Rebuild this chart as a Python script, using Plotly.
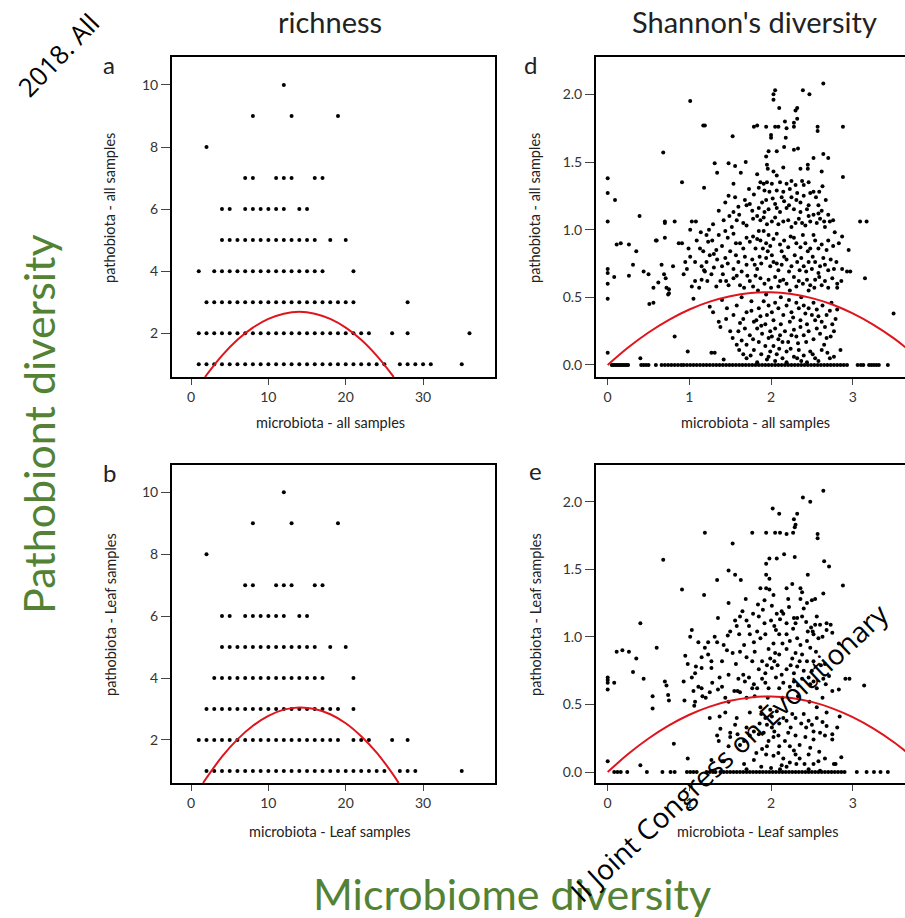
import plotly.graph_objects as go

# ---------------- richness (integer counts) ----------------
rich_all_x = [
    12,
    8, 13, 19,
    2,
    7, 8, 11, 12, 13, 16, 17,
    4, 5, 7, 8, 9, 10, 11, 12, 14, 15,
    4, 5, 6, 7, 8, 9, 10, 11, 12, 13, 14, 15, 16, 18, 20,
    1, 3, 4, 5, 6, 7, 8, 9, 10, 11, 12, 13, 14, 15, 16, 17, 21,
    2, 3, 4, 5, 6, 7, 8, 9, 10, 11, 12, 13, 14, 15, 16, 17, 18, 19, 20, 21, 28,
    1, 2, 3, 4, 5, 6, 7, 8, 9, 10, 11, 12, 13, 14, 15, 16, 17, 18, 19, 20, 21, 22, 23, 26, 28, 36,
    1, 2, 3, 4, 5, 6, 7, 8, 9, 10, 11, 12, 13, 14, 15, 16, 17, 18, 19, 20, 21, 22, 23, 24, 25, 27, 28, 29, 30, 31, 35,
]
rich_all_y = (
    [10] + [9] * 3 + [8] + [7] * 7 + [6] * 10 + [5] * 15 + [4] * 17
    + [3] * 21 + [2] * 26 + [1] * 31
)

rich_leaf_x = [
    12,
    8, 13, 19,
    2,
    7, 8, 11, 12, 13, 16, 17,
    4, 5, 7, 8, 9, 10, 11, 12, 14, 15,
    4, 5, 6, 7, 8, 9, 10, 11, 12, 13, 14, 15, 16, 18, 20,
    3, 4, 5, 6, 7, 8, 9, 10, 11, 12, 13, 14, 15, 16, 17, 21,
    2, 3, 4, 5, 6, 7, 8, 9, 10, 11, 12, 13, 14, 15, 16, 17, 18, 19, 21,
    1, 2, 3, 4, 5, 6, 7, 8, 9, 10, 11, 12, 13, 14, 15, 16, 17, 18, 19, 21, 22, 23, 26, 28,
    2, 3, 4, 5, 6, 7, 8, 9, 10, 11, 12, 13, 14, 15, 16, 17, 18, 19, 20, 21, 22, 23, 24, 25, 27, 28, 29, 35,
]
rich_leaf_y = (
    [10] + [9] * 3 + [8] + [7] * 7 + [6] * 10 + [5] * 15 + [4] * 16
    + [3] * 19 + [2] * 24 + [1] * 28
)

# quadratic fits (readings along the fitted curve)
rich_all_fit_x = [1.8, 4, 6, 8, 10, 12, 14, 16, 18, 20, 22, 24, 26, 26.2]
rich_all_fit_y = [0.59, 1.28, 1.79, 2.18, 2.46, 2.63, 2.69, 2.63, 2.46, 2.18, 1.79, 1.28, 0.66, 0.59]
rich_leaf_fit_x = [1.55, 4, 6, 8, 10, 12, 14, 16, 18, 20, 22, 24, 26, 26.85]
rich_leaf_fit_y = [0.61, 1.46, 2.02, 2.46, 2.78, 2.98, 3.05, 3.00, 2.83, 2.54, 2.12, 1.59, 0.93, 0.61]

# ---------------- Shannon's diversity ----------------
shannon_all_pts = [
    (0.00, 1.38), (0.00, 1.27), (0.09, 1.22), (0.00, 1.06), (0.39, 1.10), (0.00, 0.71), (0.00, 0.68),
    (0.00, 0.60), (0.00, 0.49), (0.08, 0.65), (0.11, 0.89), (0.16, 0.90), (0.26, 0.89), (0.26, 0.66),
    (0.35, 0.84), (0.31, 0.74), (0.00, 0.09), (0.40, 0.05),
    (2.64, 2.08), (2.05, 2.03), (2.03, 2.00), (2.03, 1.96), (2.39, 2.03), (2.47, 2.00), (1.01, 1.95),
    (2.10, 1.90), (2.32, 1.90), (2.30, 1.88), (2.32, 1.82), (2.28, 1.79), (1.17, 1.77), (1.19, 1.77),
    (1.79, 1.76), (1.83, 1.77), (1.94, 1.76), (2.05, 1.76), (2.09, 1.76), (2.17, 1.80), (2.19, 1.75),
    (2.28, 1.76), (2.57, 1.76), (2.57, 1.73), (2.88, 1.76), (2.00, 1.70), (2.00, 1.68), (1.53, 1.69),
    (0.68, 1.57), (1.97, 1.58), (2.07, 1.58), (2.16, 1.61), (2.28, 1.59), (2.64, 1.56), (2.70, 1.53),
    (1.94, 1.54), (1.31, 1.49), (1.48, 1.49), (1.56, 1.47), (1.69, 1.50), (1.63, 1.42), (1.34, 1.42),
    (1.95, 1.48), (1.96, 1.45), (2.03, 1.43), (2.07, 1.40), (2.45, 1.48), (2.45, 1.45), (0.91, 1.35),
    (1.18, 1.31), (2.88, 1.39), (1.54, 1.34), (1.48, 1.25), (1.87, 1.35), (1.91, 1.34), (1.95, 1.35),
    (2.01, 1.34), (2.11, 1.35), (2.19, 1.34), (2.25, 1.36), (2.38, 1.36), (2.40, 1.33), (2.63, 1.32),
    (1.92, 1.29), (1.98, 1.28), (2.07, 1.29), (2.15, 1.28), (2.32, 1.27), (2.48, 1.27), (2.52, 1.28),
    (1.79, 1.26), (1.68, 1.22), (2.02, 1.23), (2.16, 1.21), (2.25, 1.24), (2.36, 1.20), (2.46, 1.18),
    (2.58, 1.18), (1.60, 1.17), (1.74, 1.19), (1.85, 1.16), (1.92, 1.13), (1.97, 1.15), (2.07, 1.16),
    (2.11, 1.13), (2.19, 1.16), (2.28, 1.15), (2.36, 1.13), (2.44, 1.15), (2.52, 1.11), (2.60, 1.08),
    (2.70, 1.11), (2.76, 1.07), (3.09, 1.06), (3.17, 1.06), (1.36, 1.14), (1.49, 1.10), (1.54, 1.13),
    (1.58, 1.07), (1.61, 1.11), (1.66, 1.05), (1.83, 1.10), (1.87, 1.07), (1.91, 1.09), (2.01, 1.06),
    (2.05, 1.09), (2.15, 1.06), (2.21, 1.07), (2.30, 1.05), (2.38, 1.05), (2.42, 1.03), (2.48, 1.06),
    (2.56, 1.05), (2.65, 1.06), (2.72, 1.06), (0.70, 1.06), (0.82, 1.06), (1.03, 1.06), (1.08, 1.06),
    (1.01, 1.00),
    (0.59, 0.92), (0.70, 0.94), (0.87, 0.90), (0.91, 0.90), (1.21, 0.96), (1.23, 0.91), (1.13, 0.86),
    (1.17, 0.84), (1.25, 0.81), (1.33, 0.85), (1.36, 0.96), (1.44, 0.99), (1.47, 0.94), (1.54, 0.97),
    (1.62, 0.90), (1.70, 0.94), (1.74, 0.91), (1.81, 0.86), (1.85, 0.99), (1.91, 0.99), (1.87, 0.92),
    (1.94, 0.90), (1.99, 0.88), (2.03, 0.93), (2.11, 0.89), (2.16, 0.92), (2.21, 0.87), (2.28, 0.94),
    (2.36, 0.87), (2.42, 0.90), (2.48, 0.86), (2.54, 0.92), (2.62, 0.89), (2.68, 0.85), (2.83, 0.90),
    (2.95, 0.85), (1.01, 0.80), (1.07, 0.76), (0.99, 0.86), (1.15, 0.73), (1.21, 0.76), (1.34, 0.78),
    (1.40, 0.73), (1.47, 0.75), (1.54, 0.71), (1.60, 0.76), (1.64, 0.69), (1.70, 0.74), (1.77, 0.78),
    (1.83, 0.71), (1.88, 0.75), (1.94, 0.79), (1.99, 0.73), (2.03, 0.76), (2.09, 0.70), (2.13, 0.74),
    (2.19, 0.78), (2.25, 0.73), (2.32, 0.76), (2.35, 0.70), (2.40, 0.73), (2.46, 0.76), (2.50, 0.71),
    (2.54, 0.76), (2.60, 0.73), (2.66, 0.74), (2.73, 0.78), (2.77, 0.71), (2.87, 0.71), (2.93, 0.69),
    (2.97, 0.69), (3.15, 0.64),
    (0.44, 0.69), (0.50, 0.67), (0.66, 0.74), (0.69, 0.67), (0.71, 0.64), (0.72, 0.57), (0.74, 0.52),
    (0.56, 0.57), (0.51, 0.45), (0.56, 0.46), (0.93, 0.67), (0.97, 0.71), (1.07, 0.62), (1.12, 0.57),
    (1.15, 0.63), (1.19, 0.69), (1.27, 0.67), (1.38, 0.62), (1.41, 0.67), (1.48, 0.59), (1.54, 0.64),
    (1.62, 0.59), (1.67, 0.57), (1.74, 0.62), (1.81, 0.66), (1.87, 0.64), (1.97, 0.63), (2.05, 0.65),
    (2.11, 0.62), (2.19, 0.60), (2.28, 0.65), (2.34, 0.62), (2.44, 0.63), (2.48, 0.59), (2.54, 0.63),
    (2.62, 0.59), (2.70, 0.57), (2.81, 0.60), (2.81, 0.57), (1.05, 0.49), (1.25, 0.43), (1.29, 0.39),
    (1.36, 0.32), (1.38, 0.28), (1.46, 0.42), (1.54, 0.37), (1.58, 0.44), (1.62, 0.31), (1.60, 0.25),
    (1.50, 0.25), (1.70, 0.39), (1.79, 0.32), (1.85, 0.42), (1.87, 0.36), (1.91, 0.47), (1.97, 0.44),
    (2.01, 0.39), (2.05, 0.46), (2.09, 0.42), (2.15, 0.37), (2.19, 0.44), (2.23, 0.32), (2.25, 0.39),
    (2.31, 0.46), (2.34, 0.42), (2.40, 0.44), (2.42, 0.38), (2.46, 0.42), (2.50, 0.37), (2.54, 0.33),
    (2.56, 0.41), (2.62, 0.32), (2.68, 0.37), (2.75, 0.30), (2.79, 0.34), (2.81, 0.41), (1.68, 0.27),
    (1.74, 0.22), (1.83, 0.27), (1.89, 0.23), (1.93, 0.30), (1.97, 0.20), (1.99, 0.25), (2.05, 0.27),
    (2.09, 0.19), (2.11, 0.22), (2.17, 0.25), (2.21, 0.17), (2.28, 0.26), (2.31, 0.21), (2.36, 0.28),
    (2.40, 0.22), (2.46, 0.25), (2.52, 0.19), (2.60, 0.23), (2.68, 0.20), (2.77, 0.25), (0.82, 0.21),
    (1.58, 0.15), (1.61, 0.11), (1.70, 0.15), (1.79, 0.11), (1.85, 0.17), (1.93, 0.14), (1.99, 0.10),
    (2.03, 0.14), (2.10, 0.12), (2.19, 0.10), (2.28, 0.06), (2.34, 0.11), (2.40, 0.07), (2.48, 0.10),
    (2.54, 0.05), (2.62, 0.11), (2.72, 0.05), (2.77, 0.06), (2.85, 0.11), (0.98, 0.10), (1.27, 0.09),
    (1.31, 0.09), (1.42, 0.04), (1.70, 0.05), (1.83, 0.02), (1.95, 0.04), (2.05, 0.03), (2.19, 0.02),
    (2.32, 0.05), (2.44, 0.02), (3.50, 0.38), (0.75, 0.56), (0.75, 0.53), (0.60, 0.92), (0.70, 1.05),
    (1.70, 1.18), (1.77, 1.14), (1.89, 1.20), (1.94, 1.22), (2.05, 1.19), (2.13, 1.24), (2.22, 1.18),
    (2.31, 1.22), (2.40, 1.25), (2.55, 1.24), (2.62, 1.14), (2.66, 1.02), (2.78, 0.98), (2.87, 0.95),
    (1.78, 1.08), (1.95, 1.04), (2.09, 1.04), (2.25, 1.02), (2.34, 1.08), (2.46, 1.10), (2.58, 1.12),
    (1.70, 1.03), (1.52, 1.02), (1.42, 1.07), (1.29, 1.04), (1.24, 1.00), (1.40, 0.88), (1.50, 0.84),
    (1.57, 0.90), (1.66, 0.86), (1.78, 0.95), (1.83, 0.93), (1.90, 0.86), (1.97, 0.96), (2.07, 0.97),
    (2.13, 0.84), (2.24, 0.95), (2.31, 0.90), (2.39, 0.96), (2.45, 0.84), (2.52, 0.96), (2.58, 0.86),
    (2.70, 0.92), (2.76, 0.88), (1.30, 0.72), (1.44, 0.79), (1.57, 0.81), (1.68, 0.80), (1.80, 0.74),
    (1.86, 0.80), (1.96, 0.84), (2.01, 0.81), (2.07, 0.75), (2.16, 0.80), (2.22, 0.69), (2.29, 0.81),
    (2.37, 0.79), (2.43, 0.69), (2.51, 0.80), (2.58, 0.68), (2.64, 0.79), (2.70, 0.70), (2.80, 0.76),
    (1.22, 0.62), (1.33, 0.58), (1.45, 0.62), (1.58, 0.66), (1.71, 0.66), (1.78, 0.58), (1.84, 0.55),
    (1.92, 0.60), (2.00, 0.57), (2.09, 0.58), (2.15, 0.63), (2.23, 0.55), (2.31, 0.58), (2.39, 0.60),
    (2.46, 0.55), (2.53, 0.57), (2.59, 0.65), (2.66, 0.62), (2.75, 0.64), (2.86, 0.62), (1.40, 0.48),
    (1.64, 0.50), (1.76, 0.47), (1.94, 0.52), (2.12, 0.50), (2.22, 0.48), (2.37, 0.50), (2.52, 0.46),
    (2.63, 0.44), (2.74, 0.46), (1.45, 0.34), (1.66, 0.34), (1.76, 0.40), (1.82, 0.33), (1.95, 0.37),
    (2.03, 0.33), (2.12, 0.30), (2.27, 0.35), (2.36, 0.33), (2.44, 0.30), (2.58, 0.36), (2.66, 0.28),
    (2.72, 0.40), (1.53, 0.20), (1.64, 0.18), (1.78, 0.19), (1.88, 0.29), (2.01, 0.21), (2.14, 0.17),
    (2.25, 0.22), (2.33, 0.16), (2.43, 0.17), (2.56, 0.27), (2.65, 0.15), (2.73, 0.21), (1.66, 0.08),
    (1.75, 0.07), (1.88, 0.08), (1.97, 0.06), (2.07, 0.08), (2.14, 0.05), (2.24, 0.12), (2.37, 0.03),
    (2.51, 0.08), (2.58, 0.03), (2.69, 0.09), (1.14, 0.98), (1.28, 0.92), (1.30, 0.82), (1.09, 0.92),
    (1.18, 0.70), (1.03, 0.58), (0.95, 0.76), (0.80, 0.73), (0.62, 0.61), (1.56, 1.24), (1.73, 1.30),
    (1.85, 1.31), (2.23, 1.30), (2.30, 1.33), (2.46, 1.35), (2.59, 1.28), (2.67, 1.22), (1.44, 1.20),
    (1.83, 1.41), (2.15, 1.46), (2.36, 1.45), (2.62, 1.43), (2.52, 1.53), (2.33, 1.60), (2.18, 1.68),
]
shannon_all_zero_x = [
    0.05, 0.07, 0.09, 0.11, 0.13, 0.15, 0.17, 0.19, 0.21, 0.23, 0.25, 0.41, 0.44, 0.47, 0.50, 0.59,
    0.66, 0.70, 0.74, 0.78, 0.82, 0.86, 0.90, 0.93, 0.97, 1.01, 1.05, 1.09, 1.13, 1.17, 1.21, 1.25,
    1.29, 1.33, 1.37, 1.41, 1.45, 1.49, 1.53, 1.57, 1.61, 1.65, 1.69, 1.73, 1.77, 1.81, 1.85, 1.89,
    1.93, 1.97, 2.01, 2.05, 2.09, 2.13, 2.17, 2.21, 2.25, 2.29, 2.33, 2.37, 2.41, 2.45, 2.49, 2.53,
    2.57, 2.61, 2.65, 2.69, 2.73, 2.77, 2.81, 2.85, 2.89, 2.93, 3.06, 3.10, 3.13, 3.20, 3.23, 3.26,
    3.29, 3.32, 3.43,
]

shannon_leaf_pts = [
    (0.00, 0.70), (0.00, 0.68), (0.00, 0.66), (0.00, 0.61), (0.08, 0.66), (0.11, 0.89), (0.18, 0.90),
    (0.26, 0.89), (0.31, 0.74), (0.35, 0.84), (0.40, 1.10), (0.44, 0.69), (0.00, 0.08), (0.40, 0.05),
    (0.55, 0.56), (0.55, 0.47), (0.60, 0.92), (0.68, 1.57), (0.70, 0.67), (0.72, 0.64), (0.74, 0.57),
    (0.75, 0.53), (0.81, 0.21), (0.93, 0.67), (0.94, 0.53), (0.98, 0.10), (1.01, 1.00), (1.03, 1.05),
    (2.64, 2.08), (2.39, 2.03), (2.48, 2.00), (2.02, 1.95), (2.10, 1.91), (2.32, 1.91), (2.28, 1.87),
    (2.30, 1.83), (1.19, 1.77), (1.77, 1.77), (1.94, 1.77), (2.05, 1.77), (2.11, 1.77), (2.19, 1.76),
    (2.27, 1.77), (2.29, 1.81), (2.57, 1.76), (2.57, 1.73), (1.53, 1.69), (1.98, 1.58), (2.07, 1.58),
    (2.16, 1.61), (2.29, 1.59), (2.65, 1.56), (2.71, 1.52), (1.94, 1.54), (1.94, 1.46), (1.34, 1.42),
    (1.48, 1.49), (1.56, 1.46), (1.63, 1.42), (2.45, 1.46), (0.91, 1.35), (2.88, 1.38), (1.18, 1.31),
    (1.87, 1.36), (1.94, 1.36), (1.98, 1.35), (2.19, 1.36), (2.26, 1.39), (2.03, 1.31), (2.36, 1.36),
    (2.38, 1.33), (2.44, 1.25), (2.50, 1.27), (2.54, 1.28), (2.64, 1.32), (1.48, 1.25), (1.84, 1.24),
    (1.92, 1.27), (2.01, 1.23), (2.13, 1.19), (2.07, 1.17), (2.15, 1.17), (1.35, 1.14), (1.62, 1.15),
    (1.65, 1.19), (1.56, 1.12), (1.70, 1.12), (1.78, 1.17), (1.85, 1.15), (1.92, 1.10), (2.00, 1.12),
    (2.04, 1.08), (2.11, 1.13), (2.19, 1.10), (2.28, 1.14), (2.32, 1.14), (2.38, 1.15), (2.30, 1.10),
    (2.43, 1.11), (2.49, 1.07), (2.54, 1.09), (2.60, 1.09), (2.68, 1.10), (2.73, 1.09), (2.51, 1.04),
    (2.75, 1.03), (2.68, 1.05), (1.50, 1.04), (1.47, 1.01), (1.61, 1.02), (1.74, 1.02), (1.83, 1.04),
    (1.87, 0.99), (1.93, 1.02), (2.03, 0.95), (2.10, 1.02), (2.19, 1.02), (2.23, 0.97), (2.32, 0.99),
    (2.36, 0.94), (2.44, 0.97), (2.52, 1.02), (2.58, 0.99), (1.11, 0.96), (1.23, 0.96), (1.34, 0.96),
    (1.19, 0.92), (1.23, 0.87), (1.15, 0.85), (1.27, 0.82), (1.08, 0.78), (1.42, 0.94), (1.53, 0.88),
    (1.62, 0.89), (1.67, 0.94), (1.70, 0.85), (1.77, 0.82), (1.80, 0.89), (1.89, 0.82), (1.95, 0.79),
    (2.05, 0.88), (2.10, 0.87), (1.99, 0.84), (2.19, 0.91), (2.26, 0.84), (2.38, 0.87), (2.44, 0.82),
    (2.55, 0.89), (2.52, 0.82), (2.61, 0.79), (1.93, 0.73), (2.01, 0.77), (2.08, 0.79), (2.13, 0.72),
    (2.19, 0.76), (2.28, 0.73), (2.32, 0.78), (2.40, 0.75), (0.95, 0.86), (0.98, 0.80), (1.07, 0.73),
    (1.15, 0.77), (1.27, 0.77), (1.37, 0.70), (1.48, 0.72), (1.60, 0.69), (1.66, 0.72), (1.68, 0.67),
    (1.79, 0.65), (1.83, 0.62), (1.89, 0.69), (1.97, 0.62), (2.06, 0.70), (2.15, 0.66), (2.23, 0.63),
    (2.28, 0.67), (2.38, 0.69), (2.46, 0.70), (2.48, 0.65), (2.56, 0.62), (2.64, 0.69), (2.67, 0.65),
    (2.75, 0.60), (2.83, 0.61), (2.91, 0.69), (2.96, 0.69), (3.14, 0.64), (1.03, 0.70), (1.05, 0.60),
    (1.07, 0.52), (1.11, 0.63), (1.15, 0.62), (1.16, 0.56), (1.25, 0.59), (1.35, 0.61), (1.40, 0.63),
    (1.44, 0.55), (1.48, 0.52), (1.55, 0.60), (1.59, 0.60), (1.62, 0.59), (1.70, 0.55), (1.77, 0.62),
    (1.06, 0.49), (1.25, 0.40), (1.37, 0.41), (1.58, 0.40), (1.38, 0.32), (1.34, 0.27), (1.36, 0.23),
    (1.50, 0.29), (1.50, 0.26), (1.48, 0.19), (1.59, 0.28), (1.62, 0.20), (1.70, 0.33), (1.74, 0.27),
    (1.67, 0.23), (1.79, 0.30), (1.87, 0.48), (1.88, 0.43), (1.93, 0.40), (1.99, 0.46), (2.01, 0.41),
    (2.07, 0.45), (1.86, 0.36), (1.95, 0.35), (2.01, 0.33), (2.10, 0.36), (2.15, 0.40), (2.19, 0.38),
    (2.26, 0.43), (2.30, 0.40), (2.37, 0.36), (2.43, 0.33), (2.46, 0.38), (2.50, 0.35), (2.52, 0.30),
    (2.56, 0.40), (2.60, 0.29), (2.68, 0.34), (2.75, 0.28), (2.81, 0.33), (2.84, 0.41), (2.68, 0.44),
    (2.56, 0.48), (1.85, 0.28), (1.91, 0.29), (1.97, 0.23), (2.03, 0.26), (2.09, 0.27), (2.10, 0.19),
    (2.17, 0.23), (2.21, 0.29), (2.23, 0.19), (2.30, 0.27), (2.35, 0.20), (2.42, 0.26), (2.48, 0.18),
    (2.52, 0.24), (2.59, 0.15), (2.66, 0.27), (2.75, 0.24), (1.82, 0.14), (1.89, 0.17), (1.94, 0.13),
    (2.03, 0.12), (2.09, 0.14), (2.15, 0.10), (2.23, 0.07), (2.30, 0.13), (2.35, 0.10), (2.41, 0.06),
    (2.52, 0.06), (2.66, 0.10), (2.77, 0.06), (2.79, 0.06), (2.86, 0.11), (1.27, 0.09), (1.42, 0.08),
    (1.40, 0.08), (1.67, 0.06), (1.70, 0.02), (1.88, 0.04), (2.00, 0.03), (2.11, 0.02), (2.19, 0.04),
    (2.31, 0.06), (2.46, 0.02), (2.60, 0.01),
    (1.73, 1.08), (1.90, 1.20), (2.22, 1.22), (2.40, 1.21), (2.56, 1.15), (2.06, 1.05), (2.27, 1.06),
    (2.45, 1.04), (1.79, 0.96), (1.97, 0.91), (2.14, 0.95), (2.30, 0.88), (2.48, 0.92), (1.57, 0.80),
    (1.85, 0.76), (2.04, 0.82), (2.24, 0.79), (2.35, 0.82), (2.50, 0.75), (2.66, 0.80), (1.73, 0.70),
    (1.93, 0.66), (2.10, 0.62), (2.33, 0.64), (2.52, 0.67), (2.71, 0.71), (1.80, 0.56), (1.96, 0.55),
    (2.14, 0.55), (2.33, 0.56), (2.47, 0.52), (2.63, 0.55), (1.74, 0.44), (2.24, 0.33), (2.04, 0.30),
    (2.40, 0.43), (2.63, 0.37), (1.56, 0.35), (1.44, 0.44), (1.95, 0.19), (2.28, 0.16), (2.46, 0.13),
    (2.13, 0.05), (1.79, 0.09), (2.58, 0.08), (1.28, 0.66), (1.20, 0.55), (1.40, 0.82), (1.46, 0.90),
    (1.31, 1.00), (1.58, 1.08), (2.63, 1.00), (2.83, 0.95), (1.98, 1.43), (2.21, 1.28), (2.36, 1.28),
    (1.69, 1.28),
]
shannon_leaf_zero_x = [
    0.08, 0.12, 0.16, 0.24, 0.48, 0.67, 0.77, 0.82, 0.97, 1.01, 1.05, 1.09, 1.21, 1.25, 1.29, 1.32,
    1.38, 1.42, 1.46, 1.50, 1.54, 1.58, 1.62, 1.66, 1.70, 1.74, 1.78, 1.82, 1.86, 1.90, 1.94, 1.98,
    2.02, 2.06, 2.10, 2.14, 2.18, 2.22, 2.26, 2.30, 2.34, 2.38, 2.42, 2.46, 2.50, 2.54, 2.58, 2.62,
    2.66, 2.70, 2.74, 2.78, 2.82, 2.86, 2.90, 3.05, 3.17, 3.26, 3.34, 3.43,
]

shannon_all_fit_x = [0, 0.25, 0.5, 0.75, 1.0, 1.25, 1.5, 1.75, 2.0, 2.25, 2.5, 2.75, 3.0, 3.25, 3.5, 3.75]
shannon_all_fit_y = [0.0, 0.129, 0.240, 0.334, 0.410, 0.468, 0.508, 0.531, 0.537, 0.524, 0.494, 0.447,
                     0.381, 0.298, 0.198, 0.080]
shannon_leaf_fit_x = [0, 0.25, 0.5, 0.75, 1.0, 1.25, 1.5, 1.75, 2.0, 2.25, 2.5, 2.75, 3.0, 3.25, 3.5, 3.75]
shannon_leaf_fit_y = [0.0, 0.133, 0.248, 0.345, 0.424, 0.484, 0.527, 0.552, 0.559, 0.548, 0.519, 0.471,
                      0.406, 0.323, 0.222, 0.103]

# ---------------- figure ----------------
W, H = 905, 918
FONT = "Lato, 'Open Sans', sans-serif"
MARK_FONT = "'Open Sans', sans-serif"
GREEN = "#548235"
RED = "#e0141c"
DOT = dict(color="black", size=4)


def px(x):
    return x / W


def py(y):
    return 1 - y / H


fig = go.Figure()

panels = [
    # (xaxis id, yaxis id, scatter x, scatter y, fit x, fit y)
    ("x", "y", rich_all_x, rich_all_y, rich_all_fit_x, rich_all_fit_y),
    ("x2", "y2", [p[0] for p in shannon_all_pts] + shannon_all_zero_x,
     [p[1] for p in shannon_all_pts] + [0.0] * len(shannon_all_zero_x),
     shannon_all_fit_x, shannon_all_fit_y),
    ("x3", "y3", rich_leaf_x, rich_leaf_y, rich_leaf_fit_x, rich_leaf_fit_y),
    ("x4", "y4", [p[0] for p in shannon_leaf_pts] + shannon_leaf_zero_x,
     [p[1] for p in shannon_leaf_pts] + [0.0] * len(shannon_leaf_zero_x),
     shannon_leaf_fit_x, shannon_leaf_fit_y),
]

for xa, ya, sx, sy, fx, fy in panels:
    fig.add_trace(go.Scatter(x=sx, y=sy, mode="markers", marker=DOT,
                             xaxis=xa, yaxis=ya, showlegend=False, hoverinfo="skip"))
    fig.add_trace(go.Scatter(x=fx, y=fy, mode="lines", line=dict(color=RED, width=2, shape="spline"),
                             xaxis=xa, yaxis=ya, showlegend=False, hoverinfo="skip"))

top_dom = [py(377), py(57)]
bot_dom = [py(783), py(465)]
left_dom = [px(172), px(495)]
right_dom = [px(596), 1.0]

common = dict(showgrid=False, zeroline=False, showline=True, linecolor="black", linewidth=2,
              ticks="outside", tickcolor="#444", tickwidth=1,
              tickfont=dict(family=FONT, size=14, color="#333"))

fig.update_layout(
    width=W, height=H, autosize=False,
    margin=dict(l=0, r=0, t=0, b=0),
    paper_bgcolor="white", plot_bgcolor="white",
    xaxis=dict(domain=left_dom, anchor="y", range=[-2.46, 39.3], tickvals=[0, 10, 20, 30],
               ticklen=6, mirror=True, **common),
    yaxis=dict(domain=top_dom, anchor="x", range=[0.59, 10.9], tickvals=[2, 4, 6, 8, 10],
               ticklen=9, mirror=True, **common),
    xaxis2=dict(domain=right_dom, anchor="y2", range=[-0.143, 3.64], tickvals=[0, 1, 2, 3],
                ticklen=6, mirror=True, **common),
    yaxis2=dict(domain=top_dom, anchor="x2", range=[-0.089, 2.276], tickvals=[0, 0.5, 1, 1.5, 2],
                tickformat=".1f", ticklen=9, mirror=False, **common),
    xaxis3=dict(domain=left_dom, anchor="y3", range=[-2.46, 39.3], tickvals=[0, 10, 20, 30],
                ticklen=6, mirror=True, **common),
    yaxis3=dict(domain=bot_dom, anchor="x3", range=[0.61, 10.88], tickvals=[2, 4, 6, 8, 10],
                ticklen=9, mirror=True, **common),
    xaxis4=dict(domain=right_dom, anchor="y4", range=[-0.143, 3.64], tickvals=[0, 1, 2, 3],
                ticklen=6, mirror=True, **common),
    yaxis4=dict(domain=bot_dom, anchor="x4", range=[-0.081, 2.271], tickvals=[0, 0.5, 1, 1.5, 2],
                tickformat=".1f", ticklen=9, mirror=False, **common),
)


def note(text, x, y, size, color="#222", angle=0, family=FONT):
    fig.add_annotation(text=text, x=px(x), y=py(y), xref="paper", yref="paper",
                       showarrow=False, textangle=angle, xanchor="center", yanchor="middle",
                       font=dict(family=family, size=size, color=color))


# column titles and panel letters
note("richness", 330, 22, 29)
note("Shannon's diversity", 754, 22, 29)
note("a", 109, 64, 24)
note("d", 530, 64, 24)
note("b", 109, 472, 24)
note("e", 535, 471, 24)

# per-panel axis titles
note("pathobiota - all samples", 110, 208, 14.5, angle=-90)
note("microbiota - all samples", 330, 423, 14.5)
note("pathobiota - all samples", 535, 208, 14.5, angle=-90)
note("microbiota - all samples", 755, 423, 14.5)
note("pathobiota - Leaf samples", 110, 615, 14.5, angle=-90)
note("microbiota - Leaf samples", 330, 831, 14.5)
note("pathobiota - Leaf samples", 535, 615, 14.5, angle=-90)
note("microbiota - Leaf samples", 758, 831, 14.5)

# overall axis labels
note("Pathobiont diversity", 38, 424, 43, color=GREEN, angle=-90)
note("Microbiome diversity", 512, 893, 43, color=GREEN)

# diagonal notices
note("2018. All", 58, 55, 26, color="black", angle=-46, family=MARK_FONT)
note("II Joint Congress on Evolutionary", 729, 752, 28, color="black", angle=-43, family=MARK_FONT)

fig.write_html("out.html")
